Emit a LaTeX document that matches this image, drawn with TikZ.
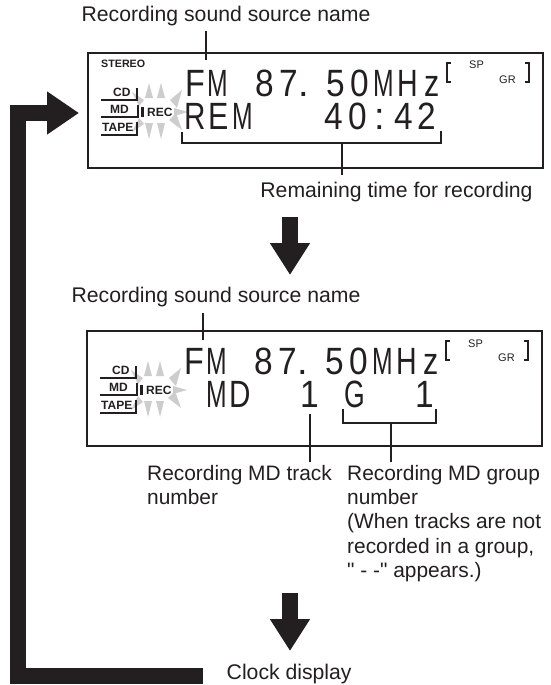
\documentclass[tikz,border=0pt]{standalone}
\usepackage{fontspec}
\setmainfont{Liberation Sans}
\newfontfamily\plainquote{Liberation Sans}
\usetikzlibrary{arrows.meta,calc,positioning}
\definecolor{inkblack}{RGB}{35,31,32}
\definecolor{raygrey}{RGB}{205,205,205}
\tikzset{
  framebox/.style={draw=inkblack,line width=1.8pt},
  leader/.style={draw=inkblack,line width=1.7pt},
  bigarrow/.style={draw=inkblack,line width=16pt,-{Triangle[length=32pt,width=#1,fill=inkblack]}},
  caption/.style={inner sep=0pt,text=inkblack,font=\fontsize{21.2}{24.3}\selectfont},
  notecap/.style={inner sep=0pt,anchor=north west,align=left,text=inkblack,font=\fontsize{20.9}{24.3}\selectfont},
  lcdchar/.style={inner sep=0pt,anchor=base,text=inkblack,font=\fontsize{38}{38}\selectfont},
  tinybold/.style={inner sep=0pt,anchor=base west,text=inkblack,font=\fontsize{12}{12}\bfseries\selectfont},
  tiny/.style={inner sep=0pt,anchor=base west,text=inkblack,font=\fontsize{11}{11}\selectfont},
}
% selector, flashing rays and the top row shared by both panels
\newcommand{\recpanel}[3]{%
  \begin{scope}[shift={(#2,#3)},name prefix=#1]
    \foreach \ax/\ay/\bx/\by/\cx/\cy in {149/83/145/98/153/98, 161/83/157/98/165/98, 149/139/145/123/153/123, 161/139/157/123/165/123,
        188/112/174/108/174/116, 182/90/170/100/177/108, 182/130/169/120/176/113, 132/92/144/100/139/106, 132/132/144/124/139/118}
      {\fill[raygrey] (\ax,\ay)--(\bx,\by)--(\cx,\cy)--cycle;}
    \node[tinybold] (cd) at (113,96) {CD};
    \node[tinybold] (md) at (110,113) {MD};
    \node[tinybold] (tape) at (102,131) {TAPE};
    \node[tinybold] (rec) at (147,116) {REC};
    \draw[leader,line width=2pt] (101,100)--(137,100)--(137,88);
    \draw[leader,line width=2pt] (101,117)--(138,117)--(138,105);
    \draw[leader,line width=2pt] (101,135)--(137,135)--(137,122);
    \fill[inkblack] (140.5,107) rectangle (143.5,117);
    \node[tiny] (sp) at (469,69) {SP};
    \node[tiny] (gr) at (499,83) {GR};
    \draw[leader,line width=1.4pt] (451,63)--(447,63)--(447,82)--(451,82);
    \draw[leader,line width=1.4pt] (525,63)--(529,63)--(529,82)--(525,82);
    \foreach \ch/\x/\sx in {F/195/.85,M/218/.65,8/265/.88,7/289/.88,./304/1,5/336/.88,0/360/.88,M/384/.65,H/408/.75,z/432/.8}
      {\node[lcdchar] (top\x) at (\x,96) {\scalebox{\sx}[1]{\ch}};}
  \end{scope}}

\begin{document}
\begin{tikzpicture}[x=1pt,y=-1pt]
  \useasboundingbox (0,0) rectangle (550,685);
  % first panel
  \draw[framebox] (88,53) rectangle (543,168);
  \recpanel{a}{0}{0}
  \node[tinybold,font=\fontsize{10.7}{11}\bfseries\selectfont] (stereo) at (101,67) {STEREO};
  \foreach \ch/\x/\sx in {R/195/.78,E/219/.8,M/243/.65,4/334/.88,0/358/.88,{:}/380/1,4/404/.88,2/427/.88}
    {\node[lcdchar] (rem\x) at (\x,129) {\scalebox{\sx}[1]{\ch}};}
  \node[caption,anchor=base] (srcA) at (226,22) {Recording sound source name};
  \node[caption,anchor=base] (remain) at (396.5,197) {Remaining time for recording};
  \coordinate (srcAend) at (206,60);
  \draw[leader] (206,31)--(srcAend);
  \coordinate (bracketA) at (342,143);
  \draw[leader] (182,132)--(182,143)--(441,143)--(441,131);
  \draw[leader] (bracketA)--(342,175);
  % second panel
  \draw[framebox] (87,331) rectangle (542,446);
  \recpanel{b}{-1}{278}
  \foreach \ch/\x/\sx in {M/217/.65,D/240/.78,1/310/.88,G/355/.7,1/425/.88}
    {\node[lcdchar] (md\x) at (\x,407) {\scalebox{\sx}[1]{\ch}};}
  \node[caption,anchor=base] (srcB) at (216,302) {Recording sound source name};
  \coordinate (srcBend) at (203,340);
  \draw[leader] (203,313)--(srcBend);
  \draw[leader] (310,414)--(310,462);
  \draw[leader] (343,409)--(343,423)--(436,423)--(436,409);
  \coordinate (bracketB) at (391,423);
  \draw[leader] (bracketB)--(391,462);
  \node[notecap] (track) at (147,465) {Recording MD track\\number};
  \node[notecap] (group) at (347,465) {Recording MD group\\number\\(When tracks are not\\recorded in a group,\\{\plainquote" - -"} appears.)};
  \node[caption,anchor=base west] (clock) at (226.5,679) {Clock display};
  % big arrows
  \coordinate (downAtop) at (290,217);
  \coordinate (downAtip) at (290,275);
  \coordinate (downBtop) at (290,593);
  \coordinate (downBtip) at (290,651);
  \draw[bigarrow=38pt] (downAtop)--(downAtip);
  \draw[bigarrow=38pt] (downBtop)--(downBtip);
  \coordinate (loopstart) at (203,676);
  \coordinate (looptip) at (79,113);
  \draw[bigarrow=41pt,miter limit=10] (loopstart)--(17.5,676)--(17.5,113)--(looptip);
\end{tikzpicture}
\end{document}
